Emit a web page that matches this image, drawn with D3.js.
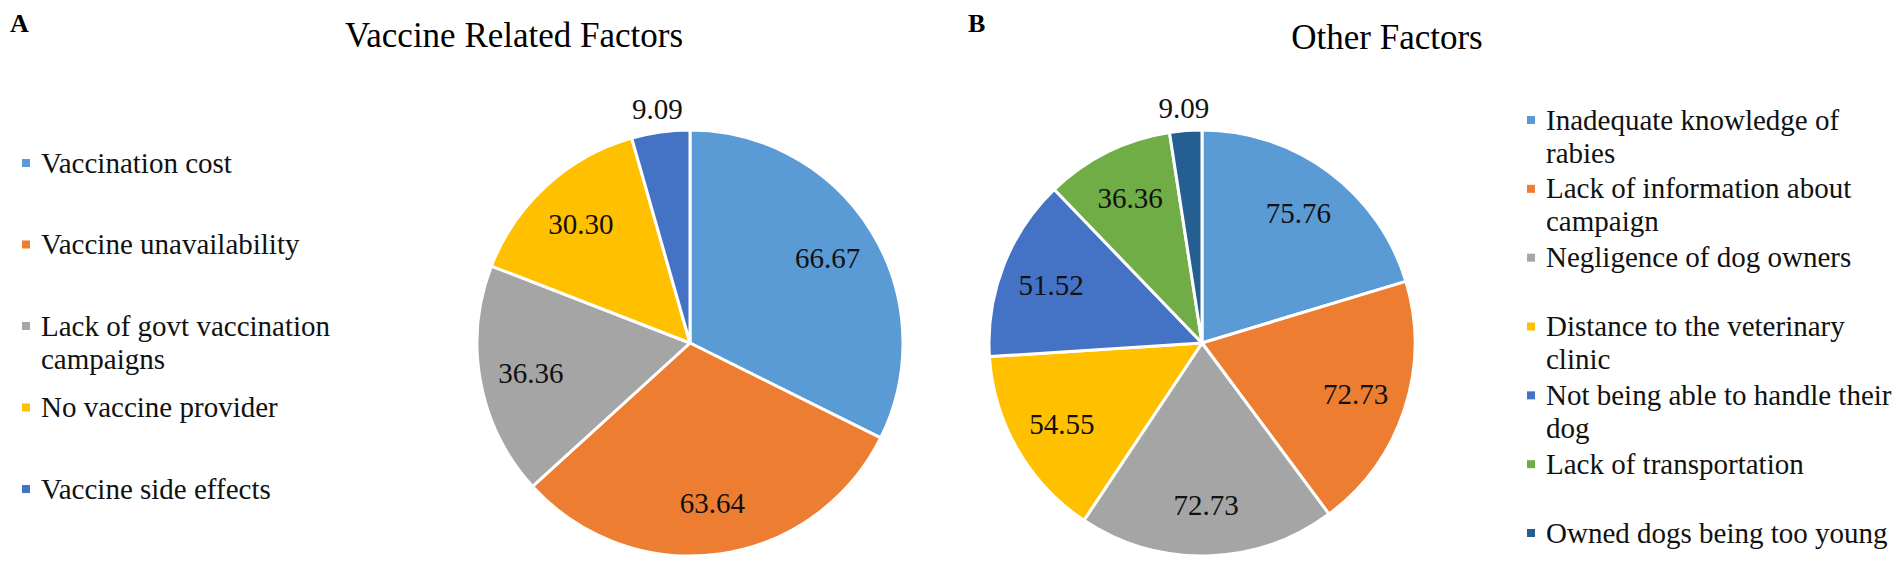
<!DOCTYPE html>
<html>
<head>
<meta charset="utf-8">
<script src="https://cdn.jsdelivr.net/npm/d3@7"></script>
<style>
  body { margin: 0; background: #fff; }
</style>
</head>
<body>
<script>
// chart A - vaccine related factors (%)
const vaccineFactors = ["Vaccination cost", "Vaccine unavailability", "Lack of govt vaccination campaigns", "No vaccine provider", "Vaccine side effects"];
const vaccineValues = [66.67, 63.64, 36.36, 30.30, 9.09];

// chart B - other factors (%)
const otherFactors = ["Inadequate knowledge of rabies", "Lack of information about campaign", "Negligence of dog owners",
  "Distance to the veterinary clinic", "Not being able to handle their dog", "Lack of transportation", "Owned dogs being too young"];
const otherValues = [75.76, 72.73, 72.73, 54.55, 51.52, 36.36, 9.09];

const colorsA = ["#5B9BD5", "#ED7D31", "#A5A5A5", "#FFC000", "#4472C4"];
const colorsB = ["#5B9BD5", "#ED7D31", "#A5A5A5", "#FFC000", "#4472C4", "#70AD47", "#255E91"];

const W = 1902, H = 567, R = 213;
const FONT = "'Liberation Serif', 'Times New Roman', serif";
const svg = d3.select("body").append("svg")
  .attr("width", W).attr("height", H)
  .attr("font-family", FONT);

let drawPie = (cx, cy, values, colors) => {
  const g = svg.append("g").attr("transform", `translate(${cx},${cy})`);
  const pie = d3.pie().sort(null).value(d => d);
  const arcs = pie(values);
  const arc = d3.arc().innerRadius(0).outerRadius(R);
  const inLabel = d3.arc().innerRadius(R * 0.76).outerRadius(R * 0.76);
  const outLabel = d3.arc().innerRadius(R + 23).outerRadius(R + 23);

  g.selectAll("path")
    .data(arcs)
    .enter()
    .append("path")
    .attr("d", arc)
    .attr("fill", (d, i) => colors[i])
    .attr("stroke", "#fff")
    .attr("stroke-width", 3)
    .attr("stroke-linejoin", "round");

  g.selectAll("text")
    .data(arcs)
    .enter()
    .append("text")
    .attr("transform", d => {
      // small slices get their label outside the pie
      const small = (d.endAngle - d.startAngle) < 0.35;
      return `translate(${(small ? outLabel : inLabel).centroid(d)})`;
    })
    .attr("font-family", FONT)
    .attr("text-anchor", "middle")
    .attr("dy", "0.35em")
    .attr("font-size", 29)
    .attr("fill", "#111")
    .text(d => d.data.toFixed(2));
};

let drawLegend = (x, yTop, yBottom, names, colors, maxW) => {
  const y = d3.scalePoint().domain(names).range([yTop, yBottom]);
  const g = svg.append("g");
  names.forEach((name, i) => {
    g.append("rect")
      .attr("x", x).attr("y", y(name) - 4)
      .attr("width", 8).attr("height", 8)
      .attr("fill", colors[i]);
    const t = g.append("text")
      .attr("x", x + 19).attr("y", y(name) + 9.5)
      .attr("font-family", FONT)
      .attr("font-size", 29)
      .attr("fill", "#111");
    // wrap the entry onto a second line when it is too wide
    const words = name.split(" ");
    let line = [], tspan = t.append("tspan").attr("x", x + 19);
    words.forEach(w => {
      line.push(w);
      tspan.text(line.join(" "));
      if (tspan.node().getComputedTextLength() > maxW && line.length > 1) {
        line.pop();
        tspan.text(line.join(" "));
        line = [w];
        tspan = t.append("tspan").attr("x", x + 19).attr("dy", 33).text(w);
      }
    });
  });
};

// panel letters and titles
svg.append("text").attr("x", 10).attr("y", 32).attr("font-size", 26).attr("font-weight", "bold").text("A");
svg.append("text").attr("x", 968).attr("y", 32).attr("font-size", 26).attr("font-weight", "bold").text("B");
svg.append("text").attr("x", 514).attr("y", 47).attr("font-size", 35).attr("text-anchor", "middle").text("Vaccine Related Factors");
svg.append("text").attr("x", 1387).attr("y", 49).attr("font-size", 35).attr("text-anchor", "middle").text("Other Factors");

drawPie(690, 343, vaccineValues, colorsA);
drawPie(1202, 343, otherValues, colorsB);

drawLegend(22, 163, 489, vaccineFactors, colorsA, 350);
drawLegend(1527, 120, 533, otherFactors, colorsB, 350);
</script>
</body>
</html>
